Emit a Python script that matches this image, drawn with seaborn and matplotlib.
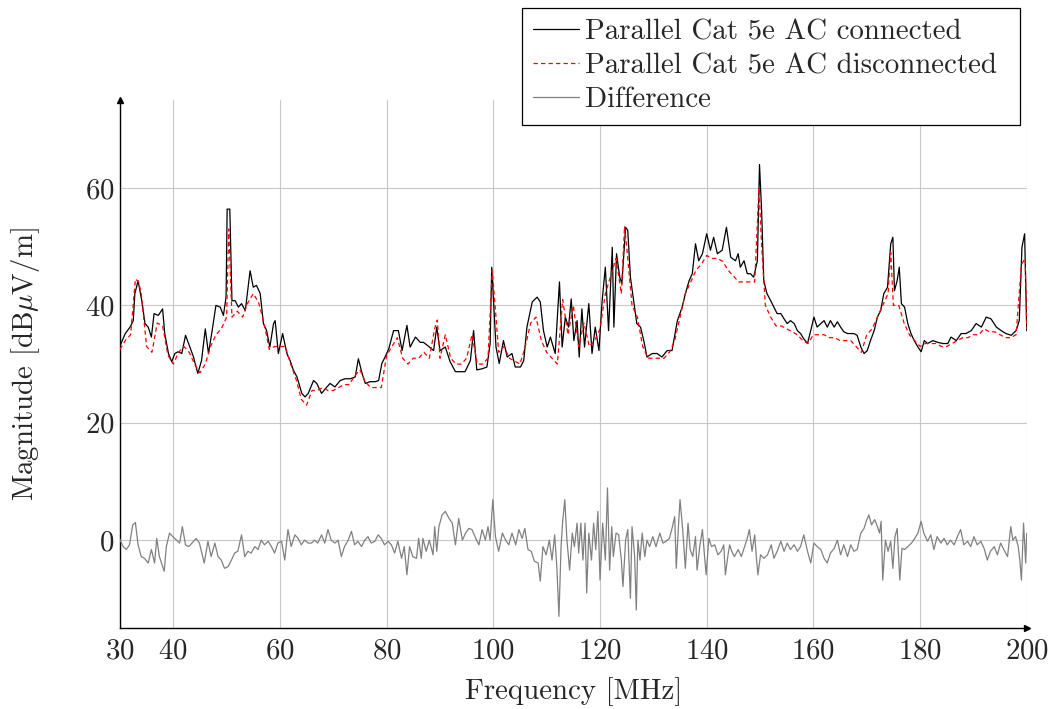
import matplotlib
matplotlib.use("Agg")
import matplotlib.pyplot as plt
from matplotlib.patches import Rectangle
import seaborn as sns
import numpy as np
import pandas as pd

# ---------------- data ----------------
freq_conn = [30.0, 30.2, 31.0, 31.9, 32.5, 32.8, 33.4, 34.1, 34.7, 35.3, 35.9, 36.4, 37.2, 38.0, 38.4,
             39.1, 39.7, 40.3, 40.9, 41.6, 42.3, 43.1, 43.8, 44.6, 45.3, 46.0, 46.6, 47.2, 48.0, 48.8,
             49.4, 49.9, 50.1, 50.6, 51.0, 51.6, 52.2, 52.8, 53.5, 54.1, 54.4, 55.0, 55.6, 56.3, 56.9,
             57.5, 58.1, 58.8, 59.1, 59.7, 60.5, 61.3, 61.9, 62.5, 63.2, 64.1, 64.7, 65.3, 66.3, 66.9,
             67.8, 68.8, 69.4, 70.3, 71.3, 72.2, 73.2, 74.1, 74.7, 75.4, 76.0, 76.9, 77.9, 78.5, 79.1,
             79.7, 80.4, 81.3, 82.2, 82.9, 83.8, 84.4, 85.4, 86.3, 86.9, 87.9, 88.8, 89.4, 90.0, 91.0,
             91.9, 92.9, 93.8, 94.7, 95.7, 96.3, 96.9, 97.9, 98.8, 99.4, 99.7, 100.1, 100.5, 101.1, 101.9,
             102.6, 103.5, 104.1, 105.1, 105.7, 106.3, 107.3, 108.2, 108.8, 109.4, 110.1, 110.7, 111.6, 112.4, 112.9,
             113.5, 114.1, 114.6, 115.1, 115.7, 116.1, 116.6, 117.1, 117.9, 118.5, 119.1, 119.8, 120.4, 121.0, 121.6,
             122.3, 122.6, 123.1, 123.7, 124.1, 124.8, 125.2, 125.7, 126.3, 126.9, 127.6, 128.2, 128.8, 129.8, 130.7,
             131.6, 132.6, 133.5, 134.5, 135.4, 136.0, 136.7, 137.3, 137.9, 138.5, 139.2, 140.0, 140.7, 141.3, 142.0,
             142.9, 143.7, 144.5, 145.4, 145.9, 146.3, 147.0, 147.6, 148.2, 148.8, 149.5, 149.9, 150.3, 150.7, 151.3,
             152.0, 152.6, 153.2, 153.9, 154.5, 155.1, 155.7, 156.4, 157.0, 157.6, 158.2, 158.9, 159.5, 160.1, 160.7,
             161.4, 162.0, 162.6, 163.2, 163.9, 164.5, 165.1, 165.7, 166.4, 167.0, 167.6, 168.2, 168.9, 169.5, 170.1,
             170.7, 171.4, 172.0, 172.6, 173.2, 173.9, 174.5, 174.9, 175.2, 175.7, 176.1, 176.5, 177.1, 177.7, 178.3,
             178.9, 179.6, 180.2, 180.8, 181.4, 182.4, 183.3, 184.3, 185.2, 185.8, 186.8, 187.7, 188.6, 189.6, 190.5,
             191.5, 192.4, 193.3, 194.3, 195.2, 196.1, 197.1, 198.0, 198.6, 199.1, 199.6, 200.0]
mag_conn = [33.0, 33.5, 35.2, 36.3, 37.4, 42.0, 44.2, 40.8, 36.9, 36.3, 34.6, 38.6, 38.3, 39.4, 35.2,
            31.8, 30.4, 31.8, 32.1, 31.8, 34.9, 32.9, 31.2, 28.4, 30.6, 36.0, 31.8, 35.2, 40.0, 39.7,
            38.3, 41.4, 56.4, 56.4, 40.8, 40.8, 39.7, 40.3, 39.1, 43.7, 45.9, 43.1, 43.4, 42.0, 36.9,
            35.7, 32.9, 36.9, 37.4, 31.8, 35.2, 31.8, 30.6, 29.0, 27.8, 25.0, 24.4, 25.0, 27.2, 26.7,
            25.0, 26.1, 26.7, 26.1, 27.2, 27.5, 27.5, 27.8, 30.9, 28.4, 26.7, 27.0, 27.0, 27.2, 30.1,
            31.2, 32.6, 35.7, 35.7, 32.3, 36.6, 32.9, 34.6, 33.7, 33.7, 33.0, 32.3, 36.3, 32.3, 32.9,
            30.4, 28.7, 28.7, 28.7, 30.6, 35.7, 29.0, 29.2, 29.5, 33.5, 46.5, 39.7, 32.9, 30.1, 34.0,
            31.2, 31.8, 29.5, 29.5, 30.6, 36.3, 40.6, 41.4, 40.6, 35.7, 32.9, 34.6, 31.8, 44.0, 32.9,
            38.0, 36.3, 41.1, 34.0, 37.4, 31.2, 39.4, 32.9, 40.3, 31.8, 36.3, 32.3, 40.8, 46.5, 35.7,
            49.9, 36.3, 48.8, 44.8, 43.7, 53.3, 52.8, 44.8, 40.8, 36.9, 36.3, 34.0, 31.2, 31.8, 31.8,
            31.2, 32.3, 32.3, 37.4, 39.7, 42.0, 44.2, 45.4, 50.5, 47.6, 48.8, 52.2, 49.4, 51.6, 48.8,
            49.4, 53.3, 48.2, 47.6, 48.8, 46.5, 47.6, 45.4, 45.4, 44.8, 47.6, 64.0, 56.0, 44.2, 42.0,
            40.8, 39.7, 38.6, 38.6, 37.7, 36.9, 37.4, 36.9, 35.7, 35.2, 34.3, 33.5, 35.7, 38.0, 36.3,
            36.9, 37.4, 36.3, 37.4, 36.3, 37.2, 36.3, 35.5, 35.2, 35.2, 35.2, 34.9, 32.9, 31.8, 32.3,
            34.0, 35.7, 38.0, 39.1, 42.0, 43.1, 50.5, 51.6, 42.5, 44.2, 46.5, 40.3, 39.7, 36.9, 35.2,
            34.0, 32.9, 32.1, 34.0, 33.5, 34.0, 33.7, 33.5, 33.5, 34.6, 34.0, 35.2, 35.2, 35.7, 36.9,
            36.3, 38.0, 37.7, 36.3, 35.7, 35.2, 34.9, 35.7, 37.4, 49.9, 52.2, 35.7]

freq_disc = [30, 31, 32, 32.9, 33.5, 34, 35, 36, 37, 38, 39, 40, 41, 42, 43, 44, 45, 46, 47, 48, 49, 50,
             50.4, 51, 52, 53, 54, 55, 56, 57, 58, 59, 60, 61, 62, 63, 64, 65, 66, 67, 68, 69, 70, 71, 72,
             73, 74, 75, 76, 77, 78, 79, 80, 81, 82, 83, 84, 85, 86, 87, 88, 89, 89.5, 90, 91, 92, 93, 94,
             95, 96, 97, 98, 99, 99.8, 100.5, 101, 102, 103, 104, 105, 106, 107, 108, 109, 110, 111, 112,
             113, 114, 115, 116, 117, 118, 119, 120, 121, 122, 123, 124, 124.6, 125, 126, 127, 128, 129,
             130, 131, 132, 133, 134, 135, 136, 137, 138, 139, 140, 141, 142, 143, 144, 145, 146, 147,
             148, 149, 149.8, 150.3, 151, 152, 153, 154, 155, 156, 157, 158, 159, 160, 161, 162, 163, 164,
             165, 166, 167, 168, 169, 170, 171, 172, 173, 174, 174.5, 175, 176, 177, 178, 179, 180, 181,
             182, 183, 184, 185, 186, 187, 188, 189, 190, 191, 192, 193, 194, 195, 196, 197, 198, 199,
             199.7, 200]
mag_disc = [32.5, 34, 35, 44.5, 44, 42, 33, 32, 37, 36.5, 31.5, 30, 32, 33, 32, 30, 28.5, 30, 33, 35, 36, 38,
            53, 38, 39, 38, 40.5, 42, 40.5, 37, 32.5, 33, 33, 33, 30, 27.5, 24, 23, 25.5, 25.5, 26, 25.5, 25.5, 26, 26.5,
            26.5, 28, 29, 27, 26, 26, 26, 31.5, 33, 34.5, 31, 30, 31, 31, 32, 31, 36, 37.5, 31, 35, 31, 30, 30,
            31, 35, 30, 30, 31, 46, 38, 32, 33, 31, 30.5, 30, 33, 37, 38, 34, 32, 31, 30,
            41, 35, 40, 33, 37, 33, 34, 36, 42, 45, 48, 42, 53.5, 50, 40, 38, 33, 31,
            31, 31, 31, 32, 34, 38, 42, 44, 46, 47, 48.5, 48, 48, 47.5, 46, 45, 44, 44,
            44, 44, 60, 50, 40, 38, 36.5, 36.5, 36, 35.5, 35, 34, 33.5, 35, 35, 35, 34.5, 34.5,
            34, 34, 34, 33, 32, 35, 36, 38, 40, 42, 49, 40, 40, 37, 35, 34, 33, 33.5,
            33.5, 33.5, 33, 33, 33.5, 34, 34.5, 34.5, 35, 35, 36, 35.5, 35.5, 35, 34.5, 34.5, 35, 47,
            48, 36]

freq_diff = [29.9, 30.6, 31.2, 31.8, 32.4, 32.9, 33.4, 34.0, 34.6, 35.3, 35.9, 36.5, 36.9, 37.4, 38.3,
             38.7, 39.3, 39.9, 40.6, 41.2, 41.7, 42.3, 42.9, 43.5, 44.3, 44.9, 45.8, 46.5, 47.1, 47.8,
             48.4, 49.0, 49.6, 50.3, 50.9, 51.5, 52.1, 52.8, 53.4, 54.0, 54.6, 55.3, 55.9, 56.5, 57.1,
             57.8, 58.4, 59.0, 59.6, 60.3, 60.9, 61.5, 62.1, 62.8, 63.4, 64.0, 64.6, 65.3, 65.9, 66.5,
             67.1, 67.8, 68.4, 69.0, 69.6, 70.3, 70.9, 71.5, 72.1, 72.8, 73.4, 74.0, 74.6, 75.3, 75.9,
             76.5, 77.1, 77.8, 78.4, 79.0, 79.6, 80.3, 80.9, 81.5, 82.1, 82.8, 83.3, 83.8, 84.3, 84.9,
             85.6, 86.0, 86.5, 86.8, 87.4, 88.0, 88.7, 89.0, 89.4, 89.8, 90.4, 91.0, 91.7, 92.3, 92.9,
             93.5, 94.2, 94.8, 95.4, 96.0, 96.7, 97.3, 97.9, 98.5, 99.0, 99.4, 99.9, 100.4, 101.0, 101.7,
             102.3, 102.9, 103.5, 104.2, 104.8, 105.4, 105.9, 106.5, 107.1, 107.7, 108.4, 108.8, 109.3, 109.9, 110.5,
             111.0, 111.5, 111.9, 112.3, 112.7, 113.0, 113.4, 113.8, 114.3, 114.8, 115.2, 115.7, 116.0, 116.4, 116.8,
             117.2, 117.5, 117.9, 118.4, 118.8, 119.2, 119.6, 120.0, 120.5, 121.0, 121.4, 121.8, 122.2, 122.5, 123.0,
             123.5, 124.0, 124.3, 124.8, 125.2, 125.7, 126.0, 126.5, 126.8, 127.1, 127.5, 127.9, 128.4, 128.8, 129.3,
             129.9, 130.5, 131.2, 131.8, 132.4, 133.0, 133.5, 134.0, 134.3, 134.7, 135.0, 135.5, 136.0, 136.5, 136.9,
             137.4, 137.9, 138.2, 138.7, 139.2, 139.6, 139.9, 140.4, 140.9, 141.5, 142.1, 142.7, 143.2, 143.5, 144.0,
             144.3, 144.7, 145.2, 145.9, 146.5, 147.1, 147.6, 148.0, 148.5, 149.0, 149.3, 149.6, 150.1, 150.7, 151.4,
             152.1, 152.6, 153.2, 153.9, 154.5, 155.1, 155.7, 156.4, 157.0, 157.6, 158.2, 158.9, 159.5, 160.1, 160.7,
             161.4, 162.0, 162.6, 163.2, 163.9, 164.5, 165.1, 165.7, 166.4, 167.0, 167.6, 168.2, 168.9, 169.5, 169.9,
             170.4, 170.9, 171.5, 172.0, 172.4, 172.7, 173.0, 173.5, 174.0, 174.5, 174.9, 175.3, 175.7, 176.2, 176.6,
             177.1, 177.7, 178.4, 179.0, 179.6, 180.2, 180.7, 181.4, 182.0, 182.6, 183.2, 183.9, 184.5, 185.1, 185.7,
             186.4, 187.0, 187.6, 188.2, 188.9, 189.5, 190.1, 190.7, 191.4, 192.0, 192.6, 193.2, 193.9, 194.5, 195.1,
             195.7, 196.4, 197.0, 197.4, 197.9, 198.4, 198.7, 199.0, 199.4, 199.8, 200.0]
mag_diff = [0.3, -1.1, -1.6, -0.8, 2.6, 3.0, -0.8, -2.8, -3.1, -3.9, -1.6, -3.9, 0.3, -2.8, -5.3,
            -1.1, 1.2, 0.6, 0.0, -0.5, 2.3, -0.8, -1.1, -0.5, 0.3, -0.5, -3.9, -0.2, -2.8, -0.5,
            -2.8, -3.4, -4.8, -4.5, -3.4, -2.2, -1.9, 0.9, -2.8, -1.9, -2.2, -1.1, -1.6, 0.0, -0.8,
            -0.2, -1.1, -2.2, -0.5, -0.2, -3.4, 1.8, -1.1, 0.9, 0.3, -0.8, 0.0, -0.5, -0.5, 0.0,
            -0.5, 0.9, -0.5, 1.8, 0.0, -0.5, 0.0, -2.8, -1.1, 0.0, 1.5, -0.8, -0.2, -1.1, 0.0,
            0.6, -0.5, -0.2, 0.9, 0.3, -0.8, -0.2, -0.8, -2.2, -0.2, -3.1, -1.1, -5.9, -1.1, -2.8,
            -3.1, 0.3, -3.1, 0.3, -1.9, 0.0, -2.5, 2.3, -1.9, 2.3, 4.3, 4.9, 3.7, 2.9, -0.8,
            3.7, 0.0, 1.2, 2.0, 1.8, 0.3, -0.8, 1.8, 0.0, 2.3, 0.0, 6.9, 0.6, -1.9, 1.2,
            0.0, -0.8, 1.2, -0.8, 1.8, 0.3, 2.0, -1.6, -1.9, -3.6, -3.9, -7.0, -1.1, -2.5, 0.0,
            -3.4, 0.9, -4.5, -13.0, -1.1, 3.2, 6.9, 0.0, -5.1, 1.2, -1.1, 2.9, -2.2, 2.9, -3.4,
            2.9, -9.0, 1.2, -3.4, 2.9, -1.6, 4.9, -6.8, 2.9, -3.4, 8.9, -5.1, 2.3, -2.8, 1.2,
            0.9, -3.4, -7.9, 0.0, 1.8, -9.9, 2.3, -2.8, -11.9, 0.0, -3.4, 1.2, -2.8, 0.0, -1.1,
            0.6, -1.1, 1.2, -0.5, -0.2, 0.3, 2.0, 4.0, -4.8, 2.3, 6.9, 1.8, -4.8, 2.9, -1.6,
            -2.8, 0.6, -5.1, -1.1, 1.8, -2.8, -5.9, 0.3, -1.1, -0.8, -2.5, -1.9, -0.8, -5.9, -2.5,
            -0.8, -1.9, -2.8, -1.6, -2.8, -1.1, 0.3, 1.8, -1.9, 0.9, -2.8, -5.9, -2.5, -3.1, -2.5,
            -0.8, -3.1, -1.9, -0.2, -1.9, -0.5, -1.6, -0.8, -1.9, -1.1, 0.9, -1.9, -3.9, -0.5, -1.1,
            -1.6, -3.1, -3.9, -2.2, -1.4, 0.0, -2.5, -0.8, -2.8, -0.8, -1.9, -1.6, 1.2, 2.0, 3.2,
            4.3, 2.6, 3.5, 2.3, 1.2, 3.2, -6.8, 0.0, -1.9, -0.2, -4.8, 0.6, 2.0, -6.8, -1.4,
            -1.6, -1.1, -0.5, 0.3, 1.2, 3.2, 1.2, -0.2, 0.9, -1.6, 0.6, -0.5, 0.3, -0.8, 0.0,
            -0.8, 0.6, 1.8, -0.8, -0.2, -1.1, 0.6, -0.8, -0.2, -1.4, -3.4, -1.9, -1.1, -2.5, -0.5,
            -1.6, -2.8, 2.3, 0.0, 0.6, -1.1, -3.4, -6.8, 2.9, -3.9, 1.2]

x_ticks = [30, 40, 60, 80, 100, 120, 140, 160, 180, 200]
y_ticks = [0, 20, 40, 60]

label_conn = "Parallel Cat 5e AC connected"
label_disc = "Parallel Cat 5e AC disconnected"
label_diff = "Difference"

# ---------------- style ----------------
sns.set_style("white")
plt.rcParams.update({
    "font.family": "serif",
    "font.serif": ["cmr10", "DejaVu Serif"],
    "mathtext.fontset": "cm",
    "axes.formatter.use_mathtext": True,
    "axes.unicode_minus": False,
})
FS = 20.8
W, H = 1052, 709

fig = plt.figure(figsize=(W / 100, H / 100), dpi=100)
ax = fig.add_axes([0.114, 0.114, 0.862, 0.745])

df_c = pd.DataFrame({"f": freq_conn, "m": mag_conn})
df_d = pd.DataFrame({"f": freq_disc, "m": mag_disc})
df_x = pd.DataFrame({"f": freq_diff, "m": mag_diff})

sns.lineplot(data=df_c, x="f", y="m", ax=ax, color="black", lw=0.9,
             estimator=None, label=label_conn, zorder=3)
sns.lineplot(data=df_d, x="f", y="m", ax=ax, color="red", lw=0.9,
             estimator=None, label=label_disc, zorder=4)
ax.lines[-1].set_dashes([3.5, 2.5])
sns.lineplot(data=df_x, x="f", y="m", ax=ax, color="#808080", lw=0.9,
             estimator=None, label=label_diff, zorder=3)

ax.set_xlim(30, 200)
ax.set_ylim(-15, 75)
ax.set_xticks(x_ticks)
ax.set_yticks(y_ticks)
ax.grid(True, color="#c8c8c8", lw=0.8, zorder=0)
ax.set_axisbelow(True)
for s in ["top", "right"]:
    ax.spines[s].set_visible(False)
for s in ["left", "bottom"]:
    ax.spines[s].set_color("black")
    ax.spines[s].set_linewidth(1.0)
ax.tick_params(axis="both", which="major", labelsize=FS, direction="in",
               length=4, width=0.8, color="black")
ax.tick_params(axis="x", pad=7)
ax.tick_params(axis="y", pad=4)
ax.set_xlabel("Frequency [MHz]", fontsize=FS)
ax.set_ylabel(r"Magnitude [dB$\mu$V/m]", fontsize=FS)
ax.xaxis.label.set_va("center")
ax.yaxis.label.set_va("center")
ax.xaxis.set_label_coords(0.5, -(691 - 628) / 528)
ax.yaxis.set_label_coords(-(120 - 26) / 906, 0.5)

# arrow heads at the axis ends
ax.plot(1, 0, marker=">", color="black", markersize=5, transform=ax.transAxes, clip_on=False)
ax.plot(0, 1, marker="^", color="black", markersize=5, transform=ax.transAxes, clip_on=False)

# legend: entries without frame, frame drawn as a separate box beneath them
leg = ax.legend(loc="center", bbox_to_anchor=(765 / W, 1 - 66 / H),
                bbox_transform=fig.transFigure, fontsize=FS, frameon=False,
                handlelength=1.6, handletextpad=0.2, labelspacing=0.27,
                borderpad=0, borderaxespad=0)
leg.set_zorder(10)
frame = Rectangle((522 / W, 1 - 125 / H), (1020 - 522) / W, (125 - 8) / H,
                  transform=fig.transFigure, facecolor="white", edgecolor="black",
                  lw=0.9, zorder=9, clip_on=False)
ax.add_patch(frame)

fig.savefig("out.png", dpi=100)
